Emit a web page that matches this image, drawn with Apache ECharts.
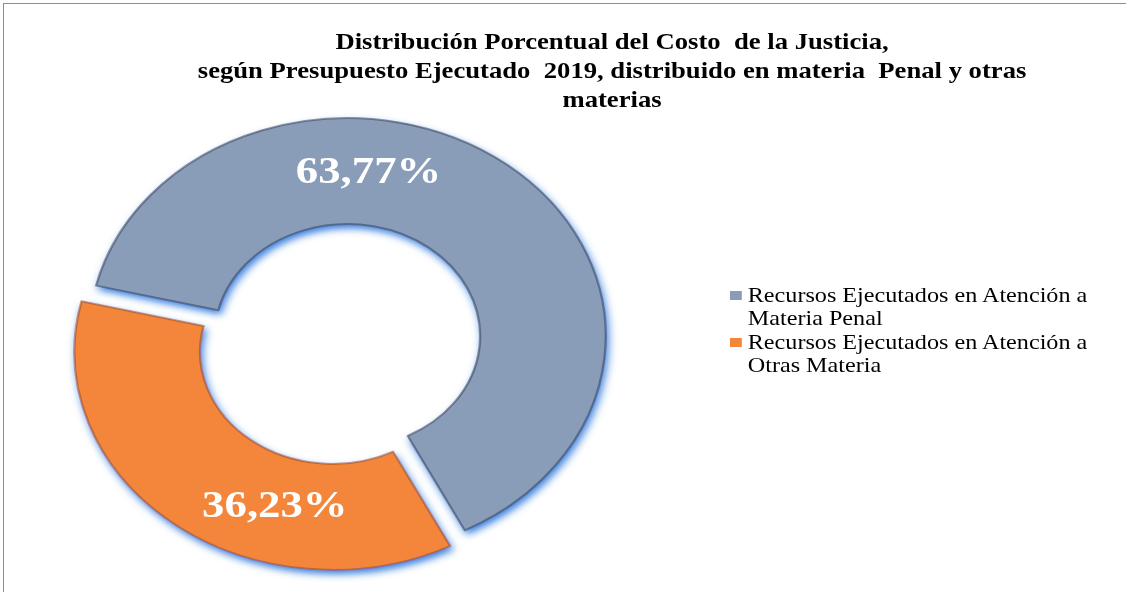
<!DOCTYPE html>
<html>
<head>
<meta charset="utf-8">
<title>Distribución Porcentual del Costo de la Justicia</title>
<script src="https://cdn.jsdelivr.net/npm/echarts@6/dist/echarts.min.js"></script>
<style>
  html, body { margin: 0; padding: 0; background: #fff; overflow: hidden; }
  .frame {
    position: absolute; left: 3px; top: 3px; width: 1123px; height: 589px;
    border-top: 1px solid #8c8c8c; border-left: 1px solid #8c8c8c;
  }
  /* the source picture is stretched sideways, so the chart is drawn narrow and scaled */
  #chart {
    position: absolute; left: 0; top: 0; width: 1033px; height: 592px;
    transform: scaleX(1.185); transform-origin: 0 0;
  }
</style>
</head>
<body>
<div class="frame"></div>
<div id="chart"></div>
<script>
const categories = [
  'Recursos Ejecutados en Atención a Materia Penal',
  'Recursos Ejecutados en Atención a Otras Materia'
]
const shares = [63.77, 36.23]
const colors = ['#8a9db8', '#f4863a']
const edgeColors = ['rgba(55,65,85,0.55)', 'rgba(140,70,20,0.5)']
// nudges for the percentage labels (Excel puts them off the slice middle)
const labelShift = [[-86, -34], [55, 20]]

const font = "'Liberation Serif', 'Times New Roman', serif"

const chart = echarts.init(document.getElementById('chart'), null, { renderer: 'svg' })

const option = {
  animation: false,
  title: {
    text: 'Distribución Porcentual del Costo  de la Justicia,\n' +
      'según Presupuesto Ejecutado  2019, distribuido en materia  Penal y otras\n' +
      'materias',
    left: 'center',
    top: 27,
    padding: 0,
    textStyle: {
      fontFamily: font,
      fontSize: 22.5,
      fontWeight: 'bold',
      lineHeight: 29,
      color: '#000'
    }
  },
  legend: {
    orient: 'vertical',
    left: 616,
    top: 284,
    padding: 0,
    itemWidth: 10,
    itemHeight: 46,
    itemGap: 1,
    selectedMode: false,
    icon: 'path://M0,7h10v9h-10z M0,0h0.01v0.01h-0.01z M0,46h0.01v0.01h-0.01z',
    itemStyle: { shadowBlur: 0, shadowColor: 'transparent', borderWidth: 0 },
    formatter: (name) => name.replace(' a ', ' a\n'),
    textStyle: {
      fontFamily: font,
      fontSize: 20.4,
      lineHeight: 23,
      color: '#000'
    }
  },
  series: [
    {
      type: 'pie',
      center: [287, 344],
      radius: [112, 218],
      startAngle: 166.6,
      clockwise: true,
      selectedMode: 'multiple',
      selectedOffset: 10,
      emphasis: { disabled: true },
      label: {
        show: true,
        position: 'inside',
        formatter: (p) => p.value.toFixed(2).replace('.', ',') + '%',
        fontFamily: font,
        fontSize: 37.8,
        fontWeight: 'bold',
        color: '#fff'
      },
      labelLine: { show: false },
      labelLayout: (params) => ({
        dx: labelShift[params.dataIndex][0],
        dy: labelShift[params.dataIndex][1]
      }),
      data: categories.map((name, i) => ({
        name,
        value: shares[i],
        selected: true,
        itemStyle: {
          color: colors[i],
          borderColor: edgeColors[i],
          borderWidth: 2,
          shadowColor: 'rgba(30,110,215,0.85)',
          shadowBlur: 7,
          shadowOffsetX: 2,
          shadowOffsetY: 4
        }
      }))
    }
  ]
}

chart.setOption(option)
</script>
</body>
</html>
